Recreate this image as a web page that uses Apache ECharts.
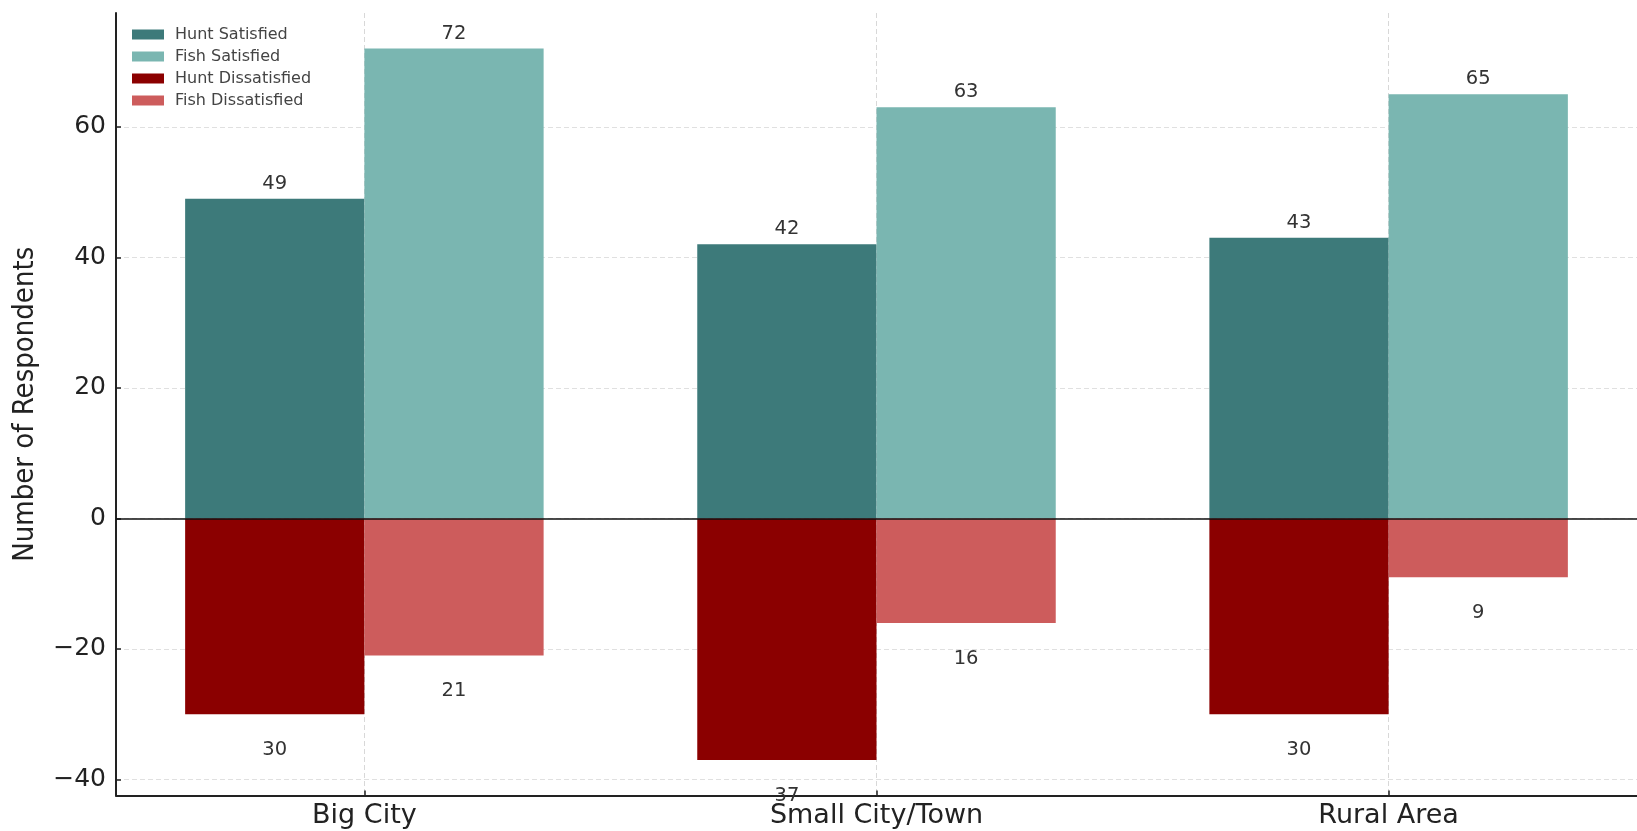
<!DOCTYPE html>
<html>
<head>
<meta charset="utf-8">
<script src="https://cdn.jsdelivr.net/npm/echarts@6/dist/echarts.min.js"></script>
<style>
html,body{margin:0;padding:0;background:#fff;}
#chart{width:1637px;height:831px;}
</style>
</head>
<body>
<div id="chart"></div>
<script>
const categories = ['Big City', 'Small City/Town', 'Rural Area'];
const huntSatisfied = [49, 42, 43];
const fishSatisfied = [72, 63, 65];
const huntDissatisfied = [30, 37, 30];
const fishDissatisfied = [21, 16, 9];
const yTickValues = [-40, -20, 0, 20, 40, 60];
const xTickValues = [0, 1, 2];

const BAR_W = 0.35;
const FONT = 'DejaVu Sans';
const colors = {
  huntSat: '#3d7a7a',
  fishSat: '#7ab6b1',
  huntDis: '#8b0000',
  fishDis: '#cd5c5c'
};

function makeData(values, offset, sign) {
  return values.map((v, i) => [i + offset, sign * v]);
}

function renderBar(color) {
  return function (params, api) {
    const x = api.value(0);
    const y = api.value(1);
    const p0 = api.coord([x - BAR_W / 2, 0]);
    const p1 = api.coord([x + BAR_W / 2, y]);
    let lp;
    if (y >= 0) {
      const c = api.coord([x, y]);
      lp = [c[0], c[1] - 15];
    } else {
      const c = api.coord([x, y - 5]);
      lp = [c[0], c[1] + 3];
    }
    return {
      type: 'group',
      children: [
        {
          type: 'rect',
          shape: {
            x: p0[0],
            y: Math.min(p0[1], p1[1]),
            width: p1[0] - p0[0],
            height: Math.abs(p1[1] - p0[1])
          },
          style: { fill: color }
        },
        {
          type: 'text',
          z2: 10,
          style: {
            text: String(Math.abs(y)),
            x: lp[0],
            y: lp[1],
            align: 'center',
            verticalAlign: 'middle',
            fontSize: 19.5,
            fontFamily: FONT,
            fill: '#333'
          }
        }
      ]
    };
  };
}

function series(name, values, offset, sign, color, extra) {
  return Object.assign({
    name: name,
    type: 'custom',
    coordinateSystem: 'cartesian2d',
    itemStyle: { color: color },
    renderItem: renderBar(color),
    encode: { x: 0, y: 1 },
    data: makeData(values, offset, sign),
    clip: false
  }, extra || {});
}

const chart = echarts.init(document.getElementById('chart'), null, { renderer: 'canvas' });

chart.setOption({
  animation: false,
  backgroundColor: '#fff',
  grid: { left: 116, right: 0, top: 13, bottom: 35.5, containLabel: false },
  legend: {
    orient: 'vertical',
    left: 132,
    top: 26.5,
    padding: 0,
    itemWidth: 32,
    itemHeight: 10,
    itemGap: 6,
    icon: 'rect',
    textStyle: { fontSize: 16, fontFamily: FONT, color: '#444', padding: [0, 0, 0, 6] },
    data: ['Hunt Satisfied', 'Fish Satisfied', 'Hunt Dissatisfied', 'Fish Dissatisfied']
  },
  xAxis: {
    type: 'value',
    min: -0.485,
    max: 2.485,
    splitNumber: 3,
    axisLine: { onZero: false, lineStyle: { color: '#222', width: 2 } },
    axisTick: { show: true, inside: true, customValues: xTickValues, length: 5, lineStyle: { color: '#222', width: 1.5 } },
    axisLabel: {
      customValues: xTickValues,
      formatter: v => categories[Math.round(v)],
      fontSize: 27,
      fontFamily: FONT,
      color: '#222',
      margin: 7
    },
    splitLine: { show: true, lineStyle: { color: '#d8d8d8', type: [5, 3], width: 1 } }
  },
  yAxis: {
    type: 'value',
    min: -42.45,
    max: 77.45,
    splitNumber: 6,
    name: 'Number of Respondents',
    nameLocation: 'middle',
    nameRotate: 90,
    nameGap: 76,
    nameTextStyle: { fontSize: 29, fontFamily: 'DejaVu Sans Condensed, DejaVu Sans', color: '#222' },
    axisLine: { show: true, onZero: false, lineStyle: { color: '#222', width: 2 } },
    axisTick: { show: true, inside: true, customValues: yTickValues, length: 5, lineStyle: { color: '#222', width: 1.5 } },
    axisLabel: {
      customValues: yTickValues,
      formatter: v => (v < 0 ? '\u2212' + Math.abs(v) : String(v)),
      fontSize: 25,
      fontFamily: FONT,
      color: '#222',
      margin: 10
    },
    splitLine: { show: true, lineStyle: { color: '#e0e0e0', type: [5, 3], width: 1 } }
  },
  series: [
    series('Hunt Satisfied', huntSatisfied, -BAR_W / 2, 1, colors.huntSat, {
      markLine: {
        silent: true,
        symbol: 'none',
        label: { show: false },
        lineStyle: { color: '#111', width: 1.5, type: 'solid' },
        data: [{ yAxis: 0 }]
      }
    }),
    series('Fish Satisfied', fishSatisfied, BAR_W / 2, 1, colors.fishSat),
    series('Hunt Dissatisfied', huntDissatisfied, -BAR_W / 2, -1, colors.huntDis),
    series('Fish Dissatisfied', fishDissatisfied, BAR_W / 2, -1, colors.fishDis)
  ]
});
</script>
</body>
</html>
